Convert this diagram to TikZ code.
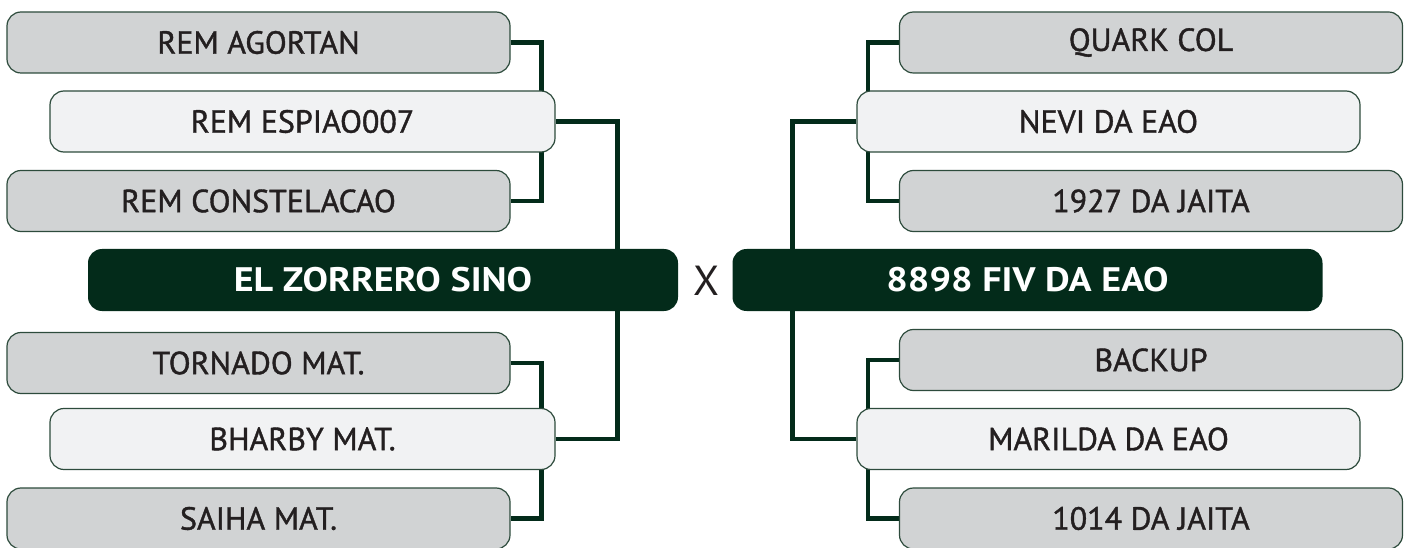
\documentclass[tikz,border=0pt]{standalone}
\usepackage{fontspec}
\setmainfont{PT Sans}
\newfontfamily\labelfont{PT Sans}[FakeBold=1.2]
\newfontfamily\headfont{PT Sans}[FakeStretch=1.12]
\usetikzlibrary{calc,backgrounds}
\definecolor{darkgreen}{RGB}{3,43,26}
\definecolor{boxgray}{RGB}{209,211,212}
\definecolor{boxlight}{RGB}{241,242,243}
\definecolor{boxedge}{RGB}{45,75,60}
\definecolor{ink}{RGB}{35,31,32}

\begin{document}
\begin{tikzpicture}[x=1pt,y=-1pt,
	teambox/.style={draw=boxedge, line width=1.2pt, rounded corners=14pt, inner sep=0pt,
		minimum width=503pt, minimum height=61pt, text=ink, font=\fontsize{32}{36}\labelfont},
	greybox/.style={teambox, fill=boxgray},
	lightbox/.style={teambox, fill=boxlight, minimum width=505pt},
	finalbox/.style={rounded corners=14pt, fill=darkgreen, text=white, inner sep=0pt,
		minimum width=590pt, minimum height=62pt, font=\fontsize{34}{38}\headfont\bfseries},
	link/.style={draw=darkgreen, line width=4.4pt}]

	\useasboundingbox (0,0) rectangle (1409,548);

	% left half
	\node[greybox] (agortan) at (258.5,42.5) {REM AGORTAN};
	\node[lightbox] (espiao) at (302.5,121.5) {REM ESPIAO007};
	\node[greybox] (constel) at (258.5,201) {REM CONSTELACAO};
	\node[greybox] (tornado) at (258.5,363) {TORNADO MAT.};
	\node[lightbox] (bharby) at (302.5,439) {BHARBY MAT.};
	\node[greybox] (saiha) at (258.5,518.5) {SAIHA MAT.};

	% final
	\node[finalbox] (zorrero) at (383,280) {EL ZORRERO SINO};
	\node[text=ink, font=\fontsize{42}{46}\selectfont] (versus) at (706,281) {X};
	\node[finalbox] (fiv) at (1027.5,280) {8898 FIV DA EAO};

	% right half
	\node[greybox] (quark) at (1151,42.5) {QUARK COL};
	\node[lightbox, minimum width=503pt] (nevi) at (1108.5,121.5) {NEVI DA EAO};
	\node[greybox] (jaita1927) at (1151,201) {1927 DA JAITA};
	\node[greybox] (backup) at (1151,360) {BACKUP};
	\node[lightbox, minimum width=503pt] (marilda) at (1108.5,439) {MARILDA DA EAO};
	\node[greybox] (jaita1014) at (1151,518.5) {1014 DA JAITA};

	\begin{scope}[on background layer]
		\draw[link] (agortan.east) -- ++(31,0) |- (constel.east);
		\draw[link] (espiao.east) -- ++(62,0) |- (bharby.east);
		\draw[link] (tornado.east) -- ++(31,0) |- (saiha.east);
		\draw[link] (quark.west) -- ++(-31,0) |- (jaita1927.west);
		\draw[link] (nevi.west) -- ++(-64,0) |- (marilda.west);
		\draw[link] (backup.west) -- ++(-31,0) |- (jaita1014.west);
	\end{scope}

\end{tikzpicture}
\end{document}
